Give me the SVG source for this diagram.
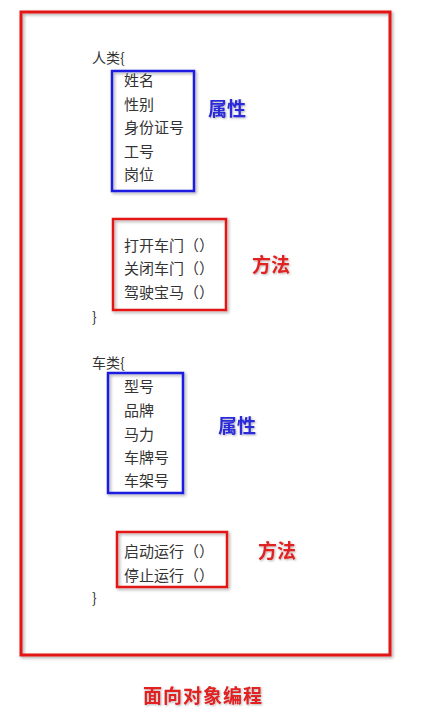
<svg xmlns="http://www.w3.org/2000/svg" width="422" height="724" viewBox="0 0 422 724">
<defs>
<filter id="sh" x="-10%" y="-10%" width="130%" height="130%">
<feDropShadow dx="1.5" dy="1.5" stdDeviation="1.5" flood-color="#000" flood-opacity="0.35"/>
</filter>
<filter id="ts" x="-10%" y="-20%" width="130%" height="150%">
<feDropShadow dx="1" dy="1" stdDeviation="1" flood-color="#000" flood-opacity="0.3"/>
</filter>
</defs>
<style>
.t{font-family:"Noto Sans CJK SC","Noto Sans",sans-serif;font-size:15px;fill:#333}
.c{font-family:"Noto Sans CJK SC","Noto Sans",sans-serif;font-size:14px;fill:#333}
.lb{font-family:"Noto Sans CJK SC",sans-serif;font-size:19px;font-weight:bold}
.blue{fill:#2a2ad8}
.red{fill:#e02020}
.rbox{fill:none;stroke:#e31818;stroke-width:2.5}
.bbox{fill:none;stroke:#1c1ce0;stroke-width:2.5}
</style>
<rect width="422" height="724" fill="#fff"/>
<g id="outer">
<rect x="21" y="12" width="369" height="643" fill="none" stroke="#e31818" stroke-width="3" filter="url(#sh)"/>
</g>
<g id="person">
<text class="c" x="92" y="63">人类{</text>
<rect class="bbox" x="112" y="71" width="82" height="120" filter="url(#sh)"/>
<text class="t" x="124" y="86">姓名</text>
<text class="t" x="124" y="110">性别</text>
<text class="t" x="124" y="133">身份证号</text>
<text class="t" x="124" y="157">工号</text>
<text class="t" x="124" y="180">岗位</text>
<text class="lb blue" x="208" y="116" filter="url(#ts)">属性</text>
<rect class="rbox" x="113" y="219" width="113" height="91" filter="url(#sh)"/>
<text class="t" x="124" y="251">打开车门（）</text>
<text class="t" x="124" y="274">关闭车门（）</text>
<text class="t" x="124" y="298">驾驶宝马（）</text>
<text class="lb red" x="252" y="272" filter="url(#ts)">方法</text>
<text class="c" x="92" y="322">}</text>
</g>
<g id="car">
<text class="c" x="92" y="368">车类{</text>
<rect class="bbox" x="108" y="373" width="75" height="120" filter="url(#sh)"/>
<text class="t" x="124" y="392">型号</text>
<text class="t" x="124" y="416">品牌</text>
<text class="t" x="124" y="440">马力</text>
<text class="t" x="124" y="463">车牌号</text>
<text class="t" x="124" y="486">车架号</text>
<text class="lb blue" x="218" y="433" filter="url(#ts)">属性</text>
<rect class="rbox" x="117" y="532" width="110" height="55" filter="url(#sh)"/>
<text class="t" x="124" y="557">启动运行（）</text>
<text class="t" x="124" y="581">停止运行（）</text>
<text class="lb red" x="258" y="558" filter="url(#ts)">方法</text>
<text class="c" x="92" y="603">}</text>
</g>
<g id="title">
<text class="lb red" x="143" y="703" letter-spacing="1" filter="url(#ts)">面向对象编程</text>
</g>
</svg>
